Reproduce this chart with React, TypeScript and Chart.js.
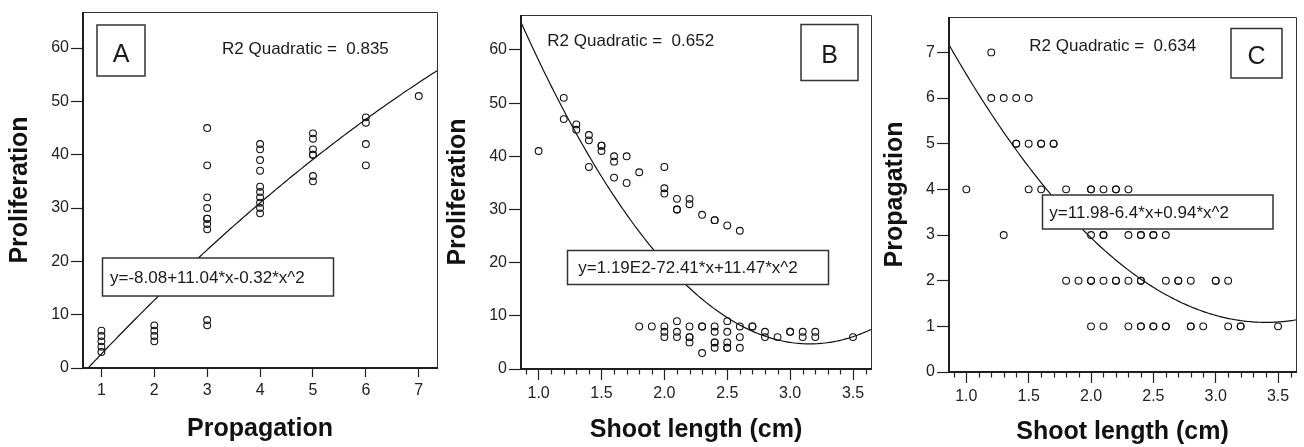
import React, { useEffect, useRef } from "react";
import { Chart, registerables } from "chart.js";

Chart.register(...registerables);

const FONT = "'Liberation Sans', Arial, Helvetica, sans-serif";

// ---------- Panel A : Propagation vs Proliferation ----------
const aPropagation = [
  1, 1, 1, 1, 1,
  2, 2, 2, 2,
  3, 3, 3, 3, 3, 3, 3, 3, 3, 3,
  4, 4, 4, 4, 4, 4, 4, 4, 4, 4,
  5, 5, 5, 5, 5, 5, 5,
  6, 6, 6, 6,
  7,
];
const aProliferation = [
  7, 6, 5, 4, 3,
  8, 7, 6, 5,
  45, 38, 32, 30, 28, 28, 27, 26, 9, 8,
  42, 41, 39, 37, 34, 33, 32, 31, 30, 29,
  44, 43, 41, 40, 40, 36, 35,
  47, 46, 42, 38,
  51,
];
const aFit = [-8.08, 11.04, -0.32];
const aXTicks = [1, 2, 3, 4, 5, 6, 7];
const aXTickLabels = ["1", "2", "3", "4", "5", "6", "7"];
const aYTicks = [0, 10, 20, 30, 40, 50, 60];

// ---------- Panel B : Shoot length vs Proliferation ----------
const bShootLength = [
  1.0,
  1.2, 1.2,
  1.3, 1.3,
  1.4, 1.4, 1.4,
  1.5, 1.5, 1.5,
  1.6, 1.6, 1.6,
  1.7, 1.7,
  1.8, 1.8,
  1.9,
  2.0, 2.0, 2.0, 2.0, 2.0, 2.0,
  2.1, 2.1, 2.1, 2.1, 2.1, 2.1,
  2.2, 2.2, 2.2, 2.2, 2.2, 2.2,
  2.3, 2.3, 2.3, 2.3,
  2.4, 2.4, 2.4, 2.4, 2.4, 2.4, 2.4,
  2.5, 2.5, 2.5, 2.5, 2.5, 2.5,
  2.6, 2.6, 2.6, 2.6,
  2.7, 2.7,
  2.8, 2.8,
  2.9,
  3.0, 3.0,
  3.1, 3.1,
  3.2, 3.2,
  3.5,
];
const bProliferation = [
  41,
  51, 47,
  46, 45,
  44, 43, 38,
  42, 42, 41,
  40, 39, 36,
  40, 35,
  37, 8,
  8,
  38, 34, 33, 8, 7, 6,
  32, 30, 30, 9, 7, 6,
  32, 31, 8, 6, 6, 5,
  29, 8, 8, 3,
  28, 28, 8, 7, 5, 5, 4,
  27, 9, 7, 5, 4, 4,
  26, 8, 6, 4,
  8, 8,
  7, 6,
  6,
  7, 7,
  7, 6,
  7, 6,
  6,
];
const bFit = [119, -72.41, 11.47];

// ---------- Panel C : Shoot length vs Propagation ----------
const cShootLength = [
  1.0,
  1.2, 1.2,
  1.3, 1.3,
  1.4, 1.4, 1.4,
  1.5, 1.5, 1.5,
  1.6, 1.6, 1.6,
  1.7, 1.7,
  1.8, 1.8,
  1.9,
  2.0, 2.0, 2.0, 2.0, 2.0, 2.0,
  2.1, 2.1, 2.1, 2.1, 2.1,
  2.2, 2.2, 2.2, 2.2,
  2.3, 2.3, 2.3, 2.3,
  2.4, 2.4, 2.4, 2.4, 2.4, 2.4,
  2.5, 2.5, 2.5, 2.5,
  2.6, 2.6, 2.6, 2.6,
  2.7, 2.7,
  2.8, 2.8, 2.8,
  2.9,
  3.0, 3.0,
  3.1, 3.1,
  3.2, 3.2,
  3.5,
];
const cPropagation = [
  4,
  7, 6,
  6, 3,
  6, 5, 5,
  6, 5, 4,
  5, 5, 4,
  5, 5,
  4, 2,
  2,
  4, 4, 3, 2, 2, 1,
  4, 3, 3, 2, 1,
  4, 4, 2, 2,
  4, 3, 2, 1,
  3, 3, 2, 2, 1, 1,
  3, 3, 1, 1,
  3, 2, 1, 1,
  2, 2,
  2, 1, 1,
  1,
  2, 2,
  2, 1,
  1, 1,
  1,
];
const cFit = [11.98, -6.4, 0.94];

const bcXTicks = [1.0, 1.5, 2.0, 2.5, 3.0, 3.5];
const bcXTickLabels = ["1.0", "1.5", "2.0", "2.5", "3.0", "3.5"];
const bcXMinorTicks = [
  0.9, 1.1, 1.2, 1.3, 1.4, 1.6, 1.7, 1.8, 1.9, 2.1, 2.2, 2.3, 2.4,
  2.6, 2.7, 2.8, 2.9, 3.1, 3.2, 3.3, 3.4, 3.6,
];
const bYTicks = [0, 10, 20, 30, 40, 50, 60];
const cYTicks = [0, 1, 2, 3, 4, 5, 6, 7];

type Box = { x: number; y: number; w: number; h: number };

type Panel = {
  id: string;
  canvasLeft: number;
  canvasWidth: number;
  area: { left: number; top: number; right: number; bottom: number };
  xMin: number;
  xMax: number;
  yMax: number;
  xs: number[];
  ys: number[];
  fit: number[];
  xTicks: number[];
  xTickLabels: string[];
  xMinor: number[];
  yTicks: number[];
  xTickLen: number;
  xTitle: string;
  yTitle: string;
  xTitlePad: number;
  yTitlePad: number;
  letter: string;
  letterBox: Box;
  letterBaseline: number;
  r2Text: string;
  r2Pos: { x: number; y: number };
  eqText: string;
  eqBox: Box;
  eqTextPos: { x: number; y: number };
};

const H = 447;

const panels: Panel[] = [
  {
    id: "A",
    canvasLeft: 0,
    canvasWidth: 440,
    area: { left: 83, top: 12, right: 437, bottom: 368 },
    xMin: 0.652,
    xMax: 7.345,
    yMax: 66.76,
    xs: aPropagation,
    ys: aProliferation,
    fit: aFit,
    xTicks: aXTicks,
    xTickLabels: aXTickLabels,
    xMinor: [],
    yTicks: aYTicks,
    xTickLen: 9,
    xTitle: "Propagation",
    yTitle: "Proliferation",
    xTitlePad: 3,
    yTitlePad: 5,
    letter: "A",
    letterBox: { x: 97, y: 25, w: 48, h: 51 },
    letterBaseline: 61.5,
    r2Text: "R2 Quadratic =  0.835",
    r2Pos: { x: 222, y: 54 },
    eqText: "y=-8.08+11.04*x-0.32*x^2",
    eqBox: { x: 102.5, y: 258, w: 231, h: 38 },
    eqTextPos: { x: 110, y: 283.3 },
  },
  {
    id: "B",
    canvasLeft: 440,
    canvasWidth: 432,
    area: { left: 81, top: 15, right: 431, bottom: 369 },
    xMin: 0.86,
    xMax: 3.643,
    yMax: 66.58,
    xs: bShootLength,
    ys: bProliferation,
    fit: bFit,
    xTicks: bcXTicks,
    xTickLabels: bcXTickLabels,
    xMinor: bcXMinorTicks,
    yTicks: bYTicks,
    xTickLen: 11,
    xTitle: "Shoot length (cm)",
    yTitle: "Proliferation",
    xTitlePad: 2,
    yTitlePad: 3,
    letter: "B",
    letterBox: { x: 361, y: 24.5, w: 57, h: 56 },
    letterBaseline: 62.7,
    r2Text: "R2 Quadratic =  0.652",
    r2Pos: { x: 107.3, y: 46.3 },
    eqText: "y=1.19E2-72.41*x+11.47*x^2",
    eqBox: { x: 127.5, y: 250.5, w: 261, h: 34 },
    eqTextPos: { x: 138.3, y: 273.3 },
  },
  {
    id: "C",
    canvasLeft: 872,
    canvasWidth: 432,
    area: { left: 77, top: 17, right: 424, bottom: 372 },
    xMin: 0.861,
    xMax: 3.644,
    yMax: 7.775,
    xs: cShootLength,
    ys: cPropagation,
    fit: cFit,
    xTicks: bcXTicks,
    xTickLabels: bcXTickLabels,
    xMinor: bcXMinorTicks,
    yTicks: cYTicks,
    xTickLen: 11,
    xTitle: "Shoot length (cm)",
    yTitle: "Propagation",
    xTitlePad: 0,
    yTitlePad: 8,
    letter: "C",
    letterBox: { x: 359, y: 28.5, w: 51, h: 49.5 },
    letterBaseline: 64,
    r2Text: "R2 Quadratic =  0.634",
    r2Pos: { x: 157.3, y: 50.7 },
    eqText: "y=11.98-6.4*x+0.94*x^2",
    eqBox: { x: 170.5, y: 195, w: 230.5, h: 34 },
    eqTextPos: { x: 177.3, y: 218.3 },
  },
];

function makeChart(canvas: HTMLCanvasElement, p: Panel) {
  const points = p.xs.map((x, i) => ({ x, y: p.ys[i] }));
  const curve: { x: number; y: number }[] = [];
  const n = 160;
  for (let i = 0; i <= n; i++) {
    const x = p.xMin + ((p.xMax - p.xMin) * i) / n;
    curve.push({ x, y: p.fit[0] + p.fit[1] * x + p.fit[2] * x * x });
  }

  const decor = {
    id: "decor" + p.id,
    afterDraw(chart: any) {
      const ctx = chart.ctx as CanvasRenderingContext2D;
      const { left, top, right, bottom } = chart.chartArea;
      ctx.save();
      // minor ticks
      const xs = chart.scales.x;
      ctx.strokeStyle = "#222";
      ctx.lineWidth = 1.2;
      for (const v of p.xMinor) {
        const px = Math.round(xs.getPixelForValue(v)) + 0.5;
        ctx.beginPath();
        ctx.moveTo(px, bottom);
        ctx.lineTo(px, bottom + 5.5);
        ctx.stroke();
      }
      // frame: thin top/right
      ctx.strokeStyle = "#333";
      ctx.lineWidth = 1;
      ctx.beginPath();
      ctx.moveTo(left, top + 0.5);
      ctx.lineTo(right + 0.5, top + 0.5);
      ctx.lineTo(right + 0.5, bottom);
      ctx.stroke();
      // thick left/bottom
      ctx.strokeStyle = "#1e1e1e";
      ctx.lineWidth = 2;
      ctx.beginPath();
      ctx.moveTo(left, top);
      ctx.lineTo(left, bottom);
      ctx.lineTo(right + 1, bottom);
      ctx.stroke();

      // letter box
      const lb = p.letterBox;
      ctx.fillStyle = "#fff";
      ctx.fillRect(lb.x, lb.y, lb.w, lb.h);
      ctx.strokeStyle = "#333";
      ctx.lineWidth = 1.5;
      ctx.strokeRect(lb.x, lb.y, lb.w, lb.h);
      ctx.fillStyle = "#1a1a1a";
      ctx.font = `25px ${FONT}`;
      ctx.textAlign = "center";
      ctx.textBaseline = "alphabetic";
      ctx.fillText(p.letter, lb.x + lb.w / 2, p.letterBaseline);

      // R2 text
      ctx.font = `17px ${FONT}`;
      ctx.textAlign = "left";
      ctx.fillStyle = "#1a1a1a";
      ctx.fillText(p.r2Text, p.r2Pos.x, p.r2Pos.y);

      // equation box
      const eb = p.eqBox;
      ctx.fillStyle = "#fff";
      ctx.fillRect(eb.x, eb.y, eb.w, eb.h);
      ctx.strokeStyle = "#333";
      ctx.lineWidth = 1.5;
      ctx.strokeRect(eb.x, eb.y, eb.w, eb.h);
      ctx.fillStyle = "#1a1a1a";
      ctx.fillText(p.eqText, p.eqTextPos.x, p.eqTextPos.y);
      ctx.restore();
    },
  };

  return new Chart(canvas, {
    type: "scatter",
    data: {
      datasets: [
        {
          data: curve,
          showLine: true,
          pointRadius: 0,
          borderColor: "#111",
          borderWidth: 1.2,
          fill: false,
          tension: 0,
        },
        {
          data: points,
          showLine: false,
          pointRadius: 3.4,
          pointBorderWidth: 1.1,
          pointBackgroundColor: "rgba(0,0,0,0)",
          pointBorderColor: "#111",
        },
      ],
    },
    options: {
      responsive: false,
      animation: false,
      devicePixelRatio: 1,
      events: [],
      layout: {
        autoPadding: false,
        padding: {
          left: 0,
          top: p.area.top,
          right: p.canvasWidth - p.area.right,
          bottom: 0,
        },
      },
      plugins: {
        legend: { display: false },
        tooltip: { enabled: false },
      },
      scales: {
        x: {
          type: "linear",
          min: p.xMin,
          max: p.xMax,
          afterBuildTicks: (s: any) => {
            s.ticks = p.xTicks.map((v) => ({ value: v }));
          },
          afterFit: (s: any) => {
            s.height = H - p.area.bottom;
            s.paddingLeft = 0;
            s.paddingRight = 0;
          },
          border: { display: false },
          grid: {
            drawOnChartArea: false,
            drawTicks: true,
            tickLength: p.xTickLen,
            tickColor: "#222",
            tickWidth: 1.2,
          },
          ticks: {
            autoSkip: false,
            maxRotation: 0,
            padding: 4,
            color: "#222",
            font: { family: FONT, size: 16 },
            callback: (_v: any, i: number) => p.xTickLabels[i],
          },
          title: {
            display: true,
            text: p.xTitle,
            color: "#111",
            font: { family: FONT, size: 25, weight: "bold" },
            padding: { top: 0, bottom: p.xTitlePad },
          },
        },
        y: {
          type: "linear",
          min: 0,
          max: p.yMax,
          afterBuildTicks: (s: any) => {
            s.ticks = p.yTicks.map((v) => ({ value: v }));
          },
          afterFit: (s: any) => {
            s.width = p.area.left;
            s.paddingTop = 0;
            s.paddingBottom = 0;
          },
          border: { display: false },
          grid: {
            drawOnChartArea: false,
            drawTicks: true,
            tickLength: 12,
            tickColor: "#222",
            tickWidth: 1.2,
          },
          ticks: {
            autoSkip: false,
            padding: 2,
            color: "#222",
            font: { family: FONT, size: 16 },
            callback: (v: any) => String(v),
          },
          title: {
            display: true,
            text: p.yTitle,
            color: "#111",
            font: { family: FONT, size: 25, weight: "bold" },
            padding: { top: p.yTitlePad, bottom: 0 },
          },
        },
      },
    },
    plugins: [decor],
  } as any);
}

function PanelChart({ p }: { p: Panel }) {
  const ref = useRef<HTMLCanvasElement | null>(null);
  useEffect(() => {
    if (!ref.current) return;
    const chart = makeChart(ref.current, p);
    return () => chart.destroy();
  }, [p]);
  return (
    <canvas
      ref={ref}
      width={p.canvasWidth}
      height={H}
      style={{
        position: "absolute",
        left: p.canvasLeft,
        top: 0,
        width: p.canvasWidth,
        height: H,
        display: "block",
      }}
    />
  );
}

export default function App() {
  return (
    <div
      style={{
        position: "fixed",
        left: 0,
        top: 0,
        width: 1304,
        height: H,
        background: "#fff",
        overflow: "hidden",
      }}
    >
      {panels.map((p) => (
        <PanelChart key={p.id} p={p} />
      ))}
    </div>
  );
}
